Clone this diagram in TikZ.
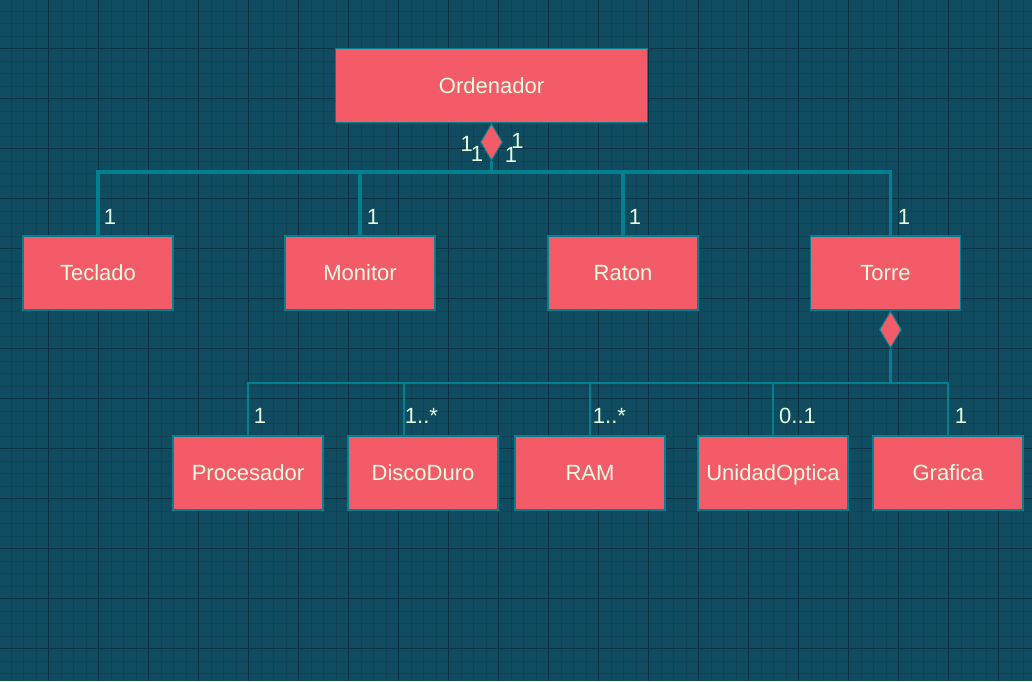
\documentclass[tikz,border=0pt]{standalone}
\usepackage{fontspec}
\setmainfont{Liberation Sans}
\usetikzlibrary{shapes.geometric}

\definecolor{bgblue}{HTML}{114B5F}
\definecolor{gridminor}{HTML}{0F4457}
\definecolor{gridmajor}{HTML}{0B3244}
\definecolor{boxred}{HTML}{F45B69}
\definecolor{linkteal}{HTML}{028090}
\definecolor{textcream}{HTML}{E4FDE1}

\begin{document}
\begin{tikzpicture}[x=1pt, y=-1pt,
  box/.style={draw=linkteal, line width=1.2pt, fill=boxred, minimum width=150pt,
    minimum height=74pt, inner sep=0pt, text height=15.8pt, text depth=0pt,
    text=textcream, font=\fontsize{22}{26}\selectfont},
  dia/.style={diamond, draw=linkteal, line width=1pt, fill=boxred, minimum width=22pt,
    minimum height=37pt, inner sep=0pt, anchor=north},
  bus/.style={draw=linkteal, line width=3.2pt},
  subbus/.style={draw=linkteal, line width=2.3pt},
  mult/.style={anchor=west, inner sep=0pt, text=textcream, font=\fontsize{22}{26}\selectfont}]

% Background and grid
\fill[bgblue] (0,0) rectangle (1032,681);
\useasboundingbox (0,0) rectangle (1032,681);
\foreach \g in {0,...,82} {
  \draw[gridminor, line width=0.6pt] (10.8+12.5*\g, 0) -- (10.8+12.5*\g, 681);
}
\foreach \g in {0,...,54} {
  \draw[gridminor, line width=0.6pt] (0, 10.8+12.5*\g) -- (1032, 10.8+12.5*\g);
}
\foreach \g in {0,...,19} {
  \draw[gridmajor, line width=1pt] (48.3+50*\g, 0) -- (48.3+50*\g, 681);
}
\foreach \g in {0,...,12} {
  \draw[gridmajor, line width=1pt] (0, 48.3+50*\g) -- (1032, 48.3+50*\g);
}

% Boxes
\node[box, minimum width=312pt] (ordenador) at (491.5, 85.5) {Ordenador};

\foreach \name/\xc/\txt in {teclado/98/Teclado, monitor/360/Monitor, raton/623/Raton, torre/885.5/Torre} {
  \node[box] (\name) at (\xc, 273) {\txt};
}

\foreach \name/\xc/\txt in {procesador/248/Procesador, discoduro/423/DiscoDuro, ram/590/RAM,
    optica/773/UnidadOptica, grafica/948/Grafica} {
  \node[box] (\name) at (\xc, 473) {\txt};
}

% Composition diamonds
\node[dia] (ord dia) at (ordenador.south) {};
\node[dia] (torre dia) at ([xshift=5pt]torre.south) {};

% Bus joints
\coordinate (top bus) at (491.5, 172);
\coordinate (low bus) at (890.5, 383);
\coordinate (disco drop) at ([xshift=-19pt]discoduro.north);

% Ordenador -> first row
\draw[bus] (ord dia.south) -- (top bus);
\draw[bus] (teclado.north) -- (teclado.north |- top bus) -- (torre dia.north |- top bus)
  -- (torre dia.north |- torre.north);
\foreach \name in {monitor, raton} {
  \draw[bus] (\name.north |- top bus) -- (\name.north);
}

% Torre -> second row
\draw[subbus] (torre dia.south) -- (low bus);
\draw[subbus] (procesador.north) -- (procesador.north |- low bus) -- (grafica.north |- low bus)
  -- (grafica.north);
\draw[subbus] (disco drop |- low bus) -- (disco drop);
\foreach \name in {ram, optica} {
  \draw[subbus] (\name.north |- low bus) -- (\name.north);
}

% Multiplicities at the diamond
\node[mult] (m ord a) at (460.4, 143.5) {1};
\node[mult] (m ord b) at (470.7, 153.5) {1};
\node[mult] (m ord c) at (504.7, 154.5) {1};
\node[mult] (m ord d) at (511.2, 140.5) {1};

% Multiplicities, first row
\foreach \name/\xm in {teclado/103.7, monitor/366.7, raton/628.7, torre/897.7} {
  \node[mult] (m \name) at (\xm, 216.5) {1};
}

% Multiplicities, second row
\foreach \name/\xm/\txt in {procesador/253.7/1, discoduro/404.7/1..*, ram/592.7/1..*,
    optica/779/0..1, grafica/954.7/1} {
  \node[mult] (m \name) at (\xm, 416) {\txt};
}

\end{tikzpicture}
\end{document}
